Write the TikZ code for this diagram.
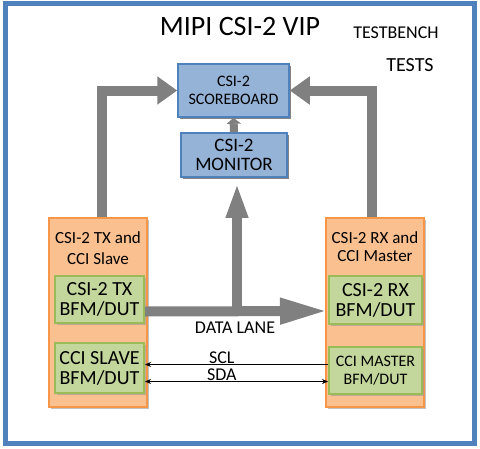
\documentclass[tikz,border=0pt]{standalone}
\usepackage{fontspec}
\setmainfont{Carlito}
\usetikzlibrary{arrows.meta,shadows}
\definecolor{frameblue}{HTML}{4F81BD}
\definecolor{boxblue}{HTML}{95B3D7}
\definecolor{orangeline}{HTML}{F79646}
\definecolor{orangefill}{HTML}{FAC090}
\definecolor{greenline}{HTML}{9BBB59}
\definecolor{greenfill}{HTML}{C3D69B}
\definecolor{pipe}{HTML}{808080}
\tikzset{
	vipbox/.style={
		draw = frameblue,
		fill = boxblue,
		line width = 1.5pt,
		align = center,
		inner sep = 0pt,
		font = \fontsize{16}{18}\selectfont,
		drop shadow = {shadow xshift=1.5pt, shadow yshift=-1.5pt, fill=black!60, opacity=0.8}
	},
	agent/.style={
		draw = orangeline,
		fill = orangefill,
		line width = 2pt,
		inner sep = 0pt,
		drop shadow = {shadow xshift=1.5pt, shadow yshift=-1.5pt, fill=black!40, opacity=0.6}
	},
	bfm/.style={
		draw = greenline,
		fill = greenfill,
		line width = 2pt,
		align = center,
		inner sep = 0pt,
		font = \fontsize{20}{20}\selectfont,
		drop shadow = {shadow xshift=1.5pt, shadow yshift=-1.5pt, fill=black!40, opacity=0.6}
	},
	bigpipe/.style={
		draw = pipe,
		line width = 10pt,
		-{Triangle[width=27pt,length=20pt]}
	},
	wire/.style={
		line width = 0.8pt,
		>={Stealth[length=6pt,width=5pt]}
	},
	wirelbl/.style={
		font = \fontsize{18}{18}\selectfont,
		text height = 12pt,
		text depth = 0pt,
		inner sep = 0pt
	},
}

\begin{document}
\begin{tikzpicture}[x=1pt, y=-1pt]
    \useasboundingbox (0,0) rectangle (480,448);
    % outer frame
    \draw[frameblue, line width=5pt, fill=white] (5.5,3.5) rectangle (474.5,443.5);
    \node (title) at (240,27) {\fontsize{28}{30}\selectfont MIPI CSI-2 VIP};
    \node (tb) at (396,33) {\fontsize{18}{18}\selectfont TESTBENCH};
    \node (tests) at (410,65) {\fontsize{20}{20}\selectfont TESTS};
    % scoreboard and monitor
    \node[vipbox, minimum width=111pt, minimum height=53pt] (sb) at (233.5,90.5) {CSI-2\\SCOREBOARD};
    \node[vipbox, minimum width=106pt, minimum height=44pt, font=\fontsize{19}{19}\selectfont] (mon) at (234,155) {CSI-2\\MONITOR};
    % agents
    \node[agent, minimum width=98pt, minimum height=189pt] (tx) at (98,312.5) {};
    \node[agent, minimum width=98pt, minimum height=189pt] (rx) at (375,312.5) {};
    \node[align=center, font=\fontsize{17}{21}\selectfont] (txlbl) at (98,248) {CSI-2 TX and\\CCI Slave};
    \node[align=center, font=\fontsize{17}{18}\selectfont] (rxlbl) at (375,247) {CSI-2 RX and\\CCI Master};
    \node[bfm, minimum width=89pt, minimum height=47pt] (txbfm) at (99.5,299.5) {CSI-2 TX\\BFM/DUT};
    \node[bfm, minimum width=89pt, minimum height=50pt] (slbfm) at (99.5,368) {CCI SLAVE\\BFM/DUT};
    \node[bfm, minimum width=93pt, minimum height=48pt] (rxbfm) at (375.5,300) {CSI-2 RX\\BFM/DUT};
    \node[bfm, minimum width=93pt, minimum height=47pt, font=\fontsize{16}{18}\selectfont] (msbfm) at (375.5,370.5) {CCI MASTER\\BFM/DUT};
    % big arrows
    \draw[bigpipe] ([xshift=4pt]tx.north) |- (sb.west);
    \draw[bigpipe] ([xshift=-3pt]rx.north) |- (sb.east);
    \draw[draw=pipe, line width=8pt, -{Triangle[width=14pt,length=6pt]}] (mon.north) -- (sb.south);
    \draw[bigpipe, -{Triangle[width=24pt,length=48pt]}] ([yshift=-12pt]txbfm.east) -- ([yshift=-11pt]rxbfm.west);
    \draw[bigpipe, -{Triangle[width=20pt,length=35pt]}] ([yshift=-12pt]txbfm.east -| mon.south) ++(3,0) coordinate (split) -- ([xshift=3pt, yshift=-5pt]mon.south);
    \node[font=\fontsize{18}{18}\selectfont] (dlane) at (235,328) {DATA LANE};
    % cci wires
    \draw[wire, ->] ([yshift=6pt]msbfm.west) -- ([yshift=6pt]msbfm.west -| slbfm.east) node[pos=0.58, above=1pt, wirelbl] {SCL};
    \draw[wire, <->] ([yshift=-13.5pt]slbfm.east) -- ([yshift=-13.5pt]slbfm.east -| msbfm.west) node[pos=0.42, above=1pt, wirelbl] {SDA};
  \end{tikzpicture}
\end{document}
